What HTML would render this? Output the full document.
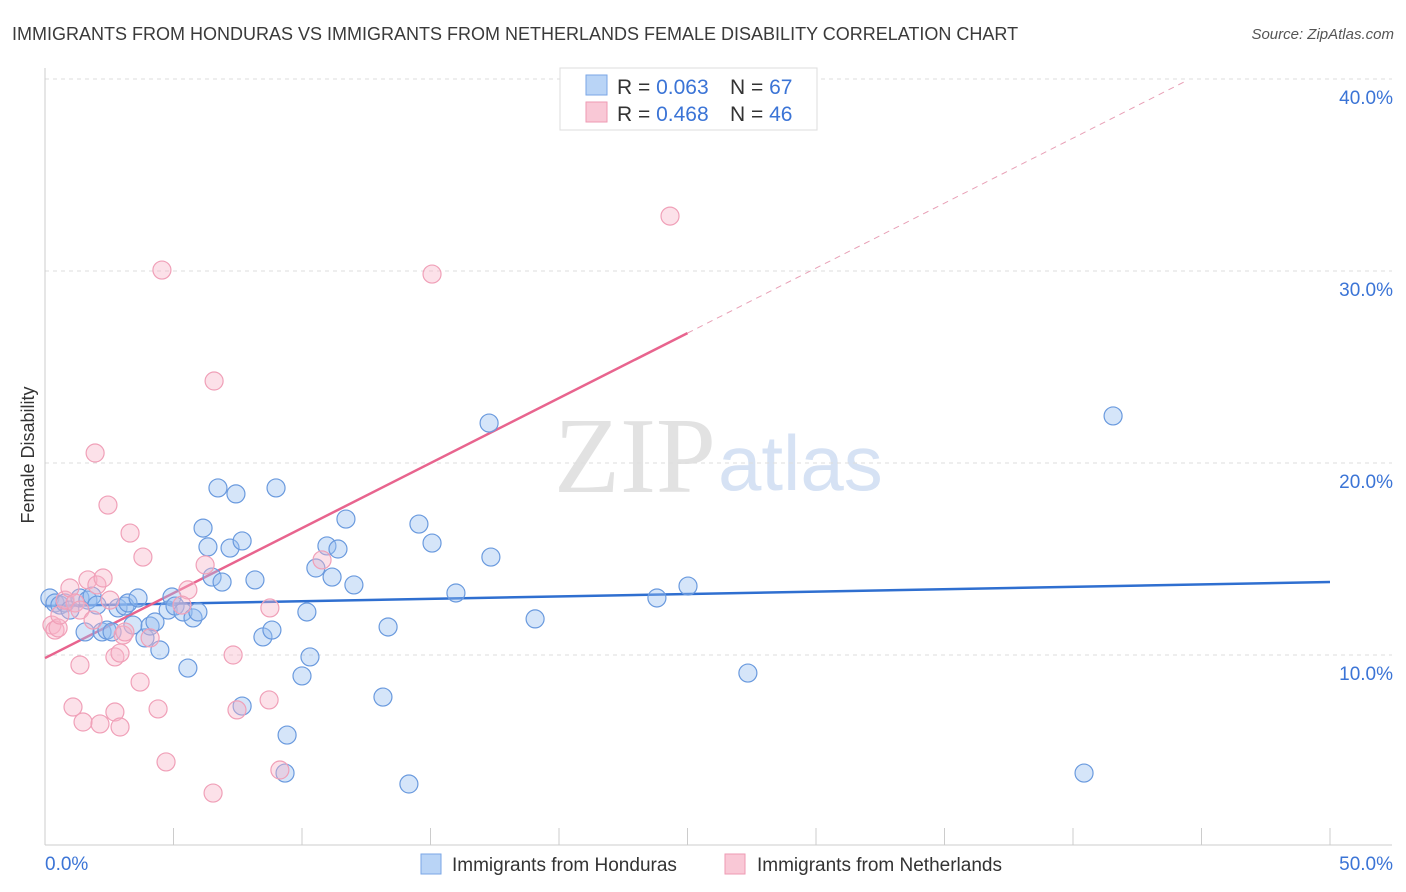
<!DOCTYPE html>
<html><head><meta charset="utf-8">
<style>
body{margin:0;background:#fff;font-family:"Liberation Sans",sans-serif;}
svg{display:block}
</style></head>
<body>
<svg id="chart" width="1406" height="892" xmlns="http://www.w3.org/2000/svg">
<text x="12" y="40" font-size="18" fill="#3a3a3a">IMMIGRANTS FROM HONDURAS VS IMMIGRANTS FROM NETHERLANDS FEMALE DISABILITY CORRELATION CHART</text>
<text x="1394" y="39" font-size="15" fill="#555" font-style="italic" text-anchor="end">Source: ZipAtlas.com</text>
<text x="716" y="492" font-size="108" fill="#e2e2e2" text-anchor="end" font-family="Liberation Serif,serif">ZIP</text>
<text x="718" y="490" font-size="78" fill="#d6e2f4">atlas</text>
<text x="34" y="455" font-size="18" fill="#333" text-anchor="middle" transform="rotate(-90 34 455)">Female Disability</text>
<g id="grid"></g><g id="axes"></g><g id="lines"></g><g id="pts"></g>
<g>
<rect x="560" y="68" width="257" height="62" fill="#fff" stroke="#ddd"/>
<rect x="586" y="75" width="21" height="20" fill="#b9d4f6" stroke="#7aa6e6"/>
<rect x="586" y="102" width="21" height="20" fill="#f9c8d6" stroke="#ee9ab3"/>
<text x="617" y="94" font-size="21" fill="#333">R = <tspan fill="#3b74d6">0.063</tspan></text>
<text x="730" y="94" font-size="21" fill="#333">N = <tspan fill="#3b74d6">67</tspan></text>
<text x="617" y="121" font-size="21" fill="#333">R = <tspan fill="#3b74d6">0.468</tspan></text>
<text x="730" y="121" font-size="21" fill="#333">N = <tspan fill="#3b74d6">46</tspan></text>
</g>
<g>
<rect x="421" y="854" width="20" height="20" fill="#b9d4f6" stroke="#7aa6e6"/>
<text x="452" y="871" font-size="19" fill="#333">Immigrants from Honduras</text>
<rect x="725" y="854" width="20" height="20" fill="#f9c8d6" stroke="#ee9ab3"/>
<text x="757" y="871" font-size="19" fill="#333">Immigrants from Netherlands</text>
</g>
</svg>
<script>
const yTicks=[10,20,30,40];
const yTickLabels=["10.0%","20.0%","30.0%","40.0%"];
const xTickLabels=["0.0%","50.0%"];
const hondurasX=[0.19,0.39,0.58,0.78,0.97,1.36,1.67,1.83,2.02,1.56,2.22,2.41,2.61,2.84,3.11,3.23,3.62,3.42,3.89,4.09,4.28,4.47,4.79,4.94,5.06,5.37,5.56,5.76,5.95,6.15,6.34,6.50,6.73,6.89,7.20,7.43,7.67,7.67,8.17,8.48,8.83,8.99,9.34,9.42,10.00,10.19,10.31,10.54,10.97,11.17,11.40,11.71,12.02,13.15,13.35,14.16,14.55,15.06,15.99,17.28,17.35,19.07,23.81,25.02,27.35,40.43,41.56];
const hondurasY=[12.97,12.71,12.60,12.71,12.34,12.97,12.86,13.07,12.60,11.20,11.20,11.30,11.20,12.45,12.55,12.71,12.97,11.56,10.89,11.51,11.72,10.26,12.34,13.02,12.55,12.24,9.32,11.93,12.24,16.61,15.63,14.06,18.70,13.80,15.57,18.39,15.94,7.34,13.91,10.94,11.30,18.70,3.85,5.83,8.91,12.24,9.90,14.53,15.68,14.06,15.52,17.08,13.65,7.81,11.46,3.28,16.82,15.83,13.23,22.08,15.10,11.88,12.97,13.59,9.06,3.85,22.45];
const netherlandsX=[0.27,0.39,0.51,0.58,0.78,0.97,1.17,1.36,1.67,1.87,2.02,2.26,1.95,2.45,2.53,2.72,2.92,3.04,3.11,3.31,3.70,3.81,4.09,4.40,4.55,4.71,5.56,5.33,6.23,6.58,6.54,7.32,7.47,8.75,8.72,9.14,10.78,15.06,24.32,1.36,1.09,1.48,2.14,2.72,2.92];
const netherlandsY=[11.56,11.30,11.41,12.08,12.86,13.49,12.71,12.34,13.91,11.82,13.65,14.01,20.52,17.81,12.86,9.90,10.10,11.04,11.20,16.35,8.59,15.10,10.89,7.19,30.05,4.43,13.39,12.60,14.69,24.27,2.81,10.00,7.14,12.45,7.66,4.01,14.95,29.84,32.86,9.48,7.29,6.51,6.41,7.03,6.25];
const hondurasTrend=[12.55,13.80];
const netherlandsTrend=[9.84,0.677];
const X=v=>45+v*25.7, Y=v=>847-v*19.2;
const NS="http://www.w3.org/2000/svg";
function mk(tag,parent,attrs){const e=document.createElementNS(NS,tag);for(const k in attrs)e.setAttribute(k,attrs[k]);document.getElementById(parent).appendChild(e);return e;}
yTicks.forEach((t,i)=>{
 const g=mk('line','grid',{x1:45,x2:1392,y1:Y(t),y2:Y(t),stroke:'#ddd','stroke-dasharray':'4,4'});
 
 
 const l=mk('text','grid',{x:1393,y:Y(t)+25,'font-size':19,fill:'#3b74d6','text-anchor':'end'});
 l.textContent=yTickLabels[i];
 
 
});
let a=mk('line','axes',{x1:45,x2:45,y1:68,y2:845,stroke:'#ccc'});


a=mk('line','axes',{x1:45,x2:1392,y1:845,y2:845,stroke:'#ccc'});


for(let v=5;v<=50;v+=5){const t=mk('line','axes',{x1:X(v),x2:X(v),y1:828,y2:845,stroke:'#ccc'});
 
 }
[[0,'start'],[50,'end']].forEach((p,i)=>{const t=mk('text','axes',{x:i?1393:45,y:870,'font-size':19,fill:'#3b74d6','text-anchor':p[1]});t.textContent=xTickLabels[i];
 
 });
let L=mk('line','lines',{x1:X(0),y1:Y(hondurasTrend[0]),x2:X(50),y2:Y(hondurasTrend[1]),stroke:'#2f6fd0','stroke-width':2.5});


const pt=x=>Y(netherlandsTrend[0]+netherlandsTrend[1]*x);
L=mk('line','lines',{x1:X(0),y1:pt(0),x2:X(25),y2:pt(25),stroke:'#e8648e','stroke-width':2.5});


L=mk('line','lines',{x1:X(25),y1:pt(25),x2:X(44.4),y2:pt(44.4),stroke:'#e8a0b6','stroke-width':1,'stroke-dasharray':'6,5'});


hondurasX.forEach((x,i)=>{const c=mk('circle','pts',{cx:X(x),cy:Y(hondurasY[i]),r:9,fill:'rgba(150,190,240,0.4)',stroke:'#6a9ade','stroke-width':1.2});
 
 });
netherlandsX.forEach((x,i)=>{const c=mk('circle','pts',{cx:X(x),cy:Y(netherlandsY[i]),r:9,fill:'rgba(248,180,200,0.4)',stroke:'#f0a0b8','stroke-width':1.2});
 
 });
</script>
</body></html>
